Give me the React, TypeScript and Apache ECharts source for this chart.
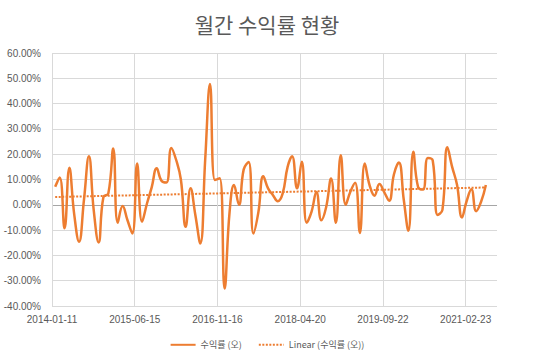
import React, { useEffect, useRef } from "react";
import * as echarts from "echarts";

const TITLE = "월간 수익률 현황";
const SERIES_NAME = "수익률 (오)";
const TREND_NAME = "Linear (수익률 (오))";

// monthly (month-end) observations starting January 2014
const FIRST_YEAR = 2014;
const FIRST_MONTH_INDEX = 0;

// x axis: date axis starting 2014-01-11 with a major unit of 520 days
const AXIS_START = { y: 2014, m: 0, d: 11 };
const AXIS_SPAN_DAYS = 2797;
const AXIS_STEP_DAYS = 520;

const Y_MIN = -40;
const Y_MAX = 60;
const Y_STEP = 10;

// monthly returns, %
const RETURNS = [
  7.1, 10.8, -9.3, 14.6, -4, -14.6, 2, 19.2, -2, -14.9,
  3.0, 4.5, 22.3, -7.1, -0.5, -6, -11.3, 16.3, -6.7, 0.5,
  7, 14.4, 9.5, 8.8, 22.5, 18, 10, -8.7, 6.5, -4,
  -15.3, 18, 47.7, 9.8, 10.5, -33.1, -3, 7.8, 0, 14,
  16.9, -11.3, -3, 11.3, 6.5, 3.8, 1.4, 4.5, 15, 19.2,
  6.5, 17, -7.1, -2.8, 5.1, -6.1, -1, 10.4, -7.1, 19.6,
  0, 5, 8.7, -11.1, 16.3, 7.8, 3.6, 8.2, 5, 1.6,
  12, 16.7, 2, -10.3, 21, 7, 6, 18.5, 17.5, -4,
  -2, 22.7, 15, 7.8, -5, 1.2, 6.1, -2.5, 1.2, 7.8,
];

const ORANGE = "#ED7D31";
const TEXT = "#595959";
const GRID = "#D9D9D9";
const ZERO = "#A6A6A6";

const DAY = 86400000;
const axisStartMs = Date.UTC(AXIS_START.y, AXIS_START.m, AXIS_START.d);

function monthEndOffset(i: number): number {
  const t = Date.UTC(FIRST_YEAR, FIRST_MONTH_INDEX + i + 1, 0);
  return Math.round((t - axisStartMs) / DAY);
}

function fmtDate(days: number): string {
  const d = new Date(axisStartMs + days * DAY);
  const p = (n: number) => (n < 10 ? "0" + n : "" + n);
  return d.getUTCFullYear() + "-" + p(d.getUTCMonth() + 1) + "-" + p(d.getUTCDate());
}

export default function App() {
  const ref = useRef<HTMLDivElement>(null);
  useEffect(() => {
    if (!ref.current) return;
    const chart = echarts.init(ref.current, undefined, { renderer: "svg" });

    const pts = RETURNS.map((v, i) => [monthEndOffset(i), v]);
    const n = pts.length;
    let sx = 0, sy = 0, sxx = 0, sxy = 0;
    pts.forEach(([x, y]) => { sx += x; sy += y; sxx += x * x; sxy += x * y; });
    const slope = (n * sxy - sx * sy) / (n * sxx - sx * sx);
    const icpt = (sy - slope * sx) / n;
    const x0 = pts[0][0];
    const x1 = pts[n - 1][0];
    const trend = [[x0, icpt + slope * x0], [x1, icpt + slope * x1]];

    const yCount = Math.round((Y_MAX - Y_MIN) / Y_STEP) + 1;
    const zeroIdx = Math.round((0 - Y_MIN) / Y_STEP);
    const yLineColors = Array.from({ length: yCount }, (_, i) => (i === zeroIdx ? ZERO : GRID));

    chart.setOption({
      animation: false,
      backgroundColor: "#ffffff",
      textStyle: { fontFamily: "'Liberation Sans', 'Noto Sans CJK KR', sans-serif" },
      title: {
        text: TITLE,
        left: "center",
        top: 8,
        textStyle: {
          fontFamily: "'Noto Sans CJK KR', sans-serif",
          fontSize: 21,
          fontWeight: "normal",
          color: TEXT,
        },
      },
      legend: {
        top: 335,
        left: "center",
        itemWidth: 25,
        itemHeight: 12,
        itemGap: 16,
        itemStyle: { opacity: 0 },
        textStyle: {
          fontFamily: "'Noto Sans CJK KR', 'Liberation Sans', sans-serif",
          fontSize: 9,
          color: TEXT,
        },
        data: [SERIES_NAME, TREND_NAME],
      },
      grid: { left: 52, right: 37, top: 53, bottom: 50 },
      xAxis: {
        type: "value",
        min: 0,
        max: AXIS_SPAN_DAYS,
        interval: AXIS_STEP_DAYS,
        axisLine: { show: false },
        axisTick: { show: false },
        axisLabel: {
          showMaxLabel: false,
          margin: 8,
          fontSize: 10,
          color: TEXT,
          formatter: (v: number) => fmtDate(v),
        },
        splitLine: { show: true, showMaxLine: false, lineStyle: { color: GRID, width: 1 } },
      },
      yAxis: {
        type: "value",
        min: Y_MIN,
        max: Y_MAX,
        interval: Y_STEP,
        axisLine: { show: false },
        axisTick: { show: false },
        axisLabel: {
          margin: 11,
          fontSize: 10,
          color: TEXT,
          formatter: (v: number) => v.toFixed(2) + "%",
        },
        splitLine: { show: true, lineStyle: { color: yLineColors, width: 1 } },
      },
      series: [
        {
          name: SERIES_NAME,
          type: "line",
          data: pts,
          smooth: 0.45,
          symbol: "none",
          lineStyle: { color: ORANGE, width: 2.5 },
          itemStyle: { color: ORANGE },
          z: 3,
        },
        {
          name: TREND_NAME,
          type: "line",
          data: trend,
          symbol: "none",
          lineStyle: { color: ORANGE, width: 2, type: [2, 1.5] },
          itemStyle: { color: ORANGE },
          z: 4,
        },
      ],
    });
    return () => chart.dispose();
  }, []);

  return (
    <div
      ref={ref}
      style={{ position: "fixed", left: 0, top: 0, width: 534, height: 356 }}
    />
  );
}
